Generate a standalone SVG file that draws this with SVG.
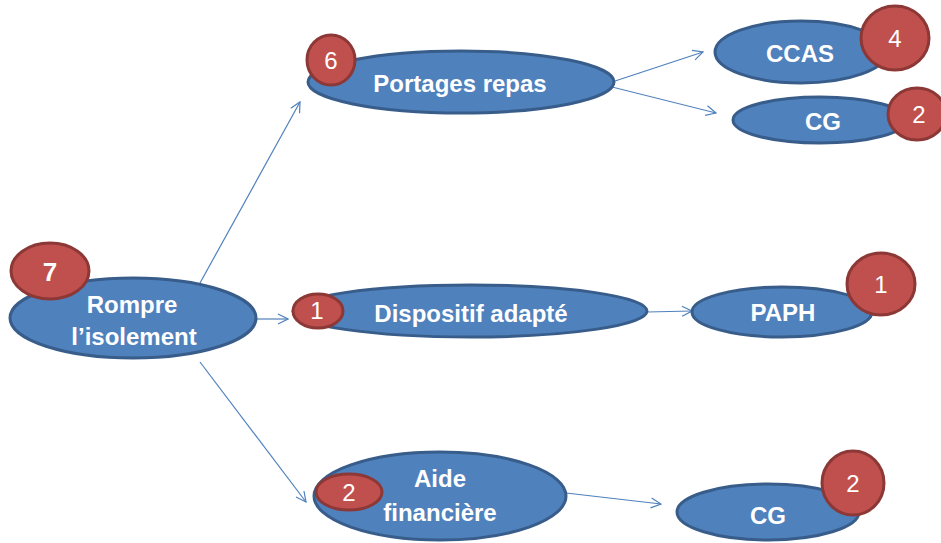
<svg xmlns="http://www.w3.org/2000/svg" width="941" height="543" viewBox="0 0 941 543">
<style>
.n{fill:#4F81BD;stroke:#385D8A;stroke-width:3}
.b{fill:#C0504D;stroke:#8C3836;stroke-width:3}
.t{font-family:"Liberation Sans",Arial,sans-serif;font-weight:bold;font-size:24px;fill:#FFFFFF;text-anchor:middle}
.d{font-family:"Liberation Sans",Arial,sans-serif;font-size:24px;fill:#FFFFFF;text-anchor:middle}
.c{fill:none;stroke:#4F81BD;stroke-width:1.2}
</style>
<defs>
<marker id="a" viewBox="0 0 12 12" refX="11" refY="6" markerWidth="12" markerHeight="12" markerUnits="userSpaceOnUse" orient="auto">
<path d="M1,1 L11,6 L1,11" fill="none" stroke="#4F81BD" stroke-width="1.2"/>
</marker>
</defs>
<g id="connectors">
<line class="c" x1="200" y1="283" x2="300" y2="102" marker-end="url(#a)"/>
<line class="c" x1="257" y1="319" x2="288" y2="319" marker-end="url(#a)"/>
<line class="c" x1="200" y1="362" x2="306" y2="502" marker-end="url(#a)"/>
<line class="c" x1="612" y1="82" x2="703" y2="52" marker-end="url(#a)"/>
<line class="c" x1="612" y1="87" x2="716" y2="113" marker-end="url(#a)"/>
<line class="c" x1="647" y1="312" x2="692" y2="311" marker-end="url(#a)"/>
<line class="c" x1="566" y1="493" x2="661" y2="504" marker-end="url(#a)"/>
</g>
<g id="rompre">
<ellipse class="n" cx="133" cy="318" rx="123" ry="40"/>
<text class="t" x="132" y="313">Rompre</text>
<text class="t" x="134" y="345">l’isolement</text>
<ellipse class="b" cx="50" cy="271" rx="39" ry="28"/>
<text class="t" x="50" y="281" style="font-size:26px">7</text>
</g>
<g id="portages">
<ellipse class="n" cx="461" cy="82" rx="153" ry="31"/>
<text class="t" x="460" y="92">Portages repas</text>
<ellipse class="b" cx="331" cy="60" rx="24" ry="25"/>
<text class="d" x="331" y="69">6</text>
</g>
<g id="ccas">
<ellipse class="n" cx="801" cy="52" rx="86" ry="31"/>
<text class="t" x="800" y="62">CCAS</text>
<ellipse class="b" cx="895" cy="38" rx="34" ry="32"/>
<text class="d" x="895" y="47">4</text>
</g>
<g id="cg-top">
<ellipse class="n" cx="820" cy="120" rx="87" ry="23"/>
<text class="t" x="823" y="130">CG</text>
<ellipse class="b" cx="917" cy="114" rx="29" ry="26"/>
<text class="d" x="919" y="123">2</text>
</g>
<g id="dispositif">
<ellipse class="n" cx="470" cy="311" rx="177" ry="26"/>
<text class="t" x="471" y="322">Dispositif adapté</text>
<ellipse class="b" cx="318" cy="311" rx="25" ry="17"/>
<text class="d" x="317" y="319">1</text>
</g>
<g id="paph">
<ellipse class="n" cx="782" cy="312" rx="90" ry="25"/>
<text class="t" x="783" y="321">PAPH</text>
<ellipse class="b" cx="881" cy="284" rx="34" ry="31"/>
<text class="d" x="881" y="293">1</text>
</g>
<g id="aide">
<ellipse class="n" cx="440" cy="496" rx="126" ry="44"/>
<text class="t" x="440" y="487">Aide</text>
<text class="t" x="440" y="521">financière</text>
<ellipse class="b" cx="349" cy="492" rx="33" ry="18"/>
<text class="d" x="349" y="501">2</text>
</g>
<g id="cg-bottom">
<ellipse class="n" cx="768" cy="512" rx="91" ry="28"/>
<text class="t" x="768" y="524">CG</text>
<ellipse class="b" cx="853" cy="483" rx="31" ry="32"/>
<text class="d" x="853" y="492">2</text>
</g>
</svg>
